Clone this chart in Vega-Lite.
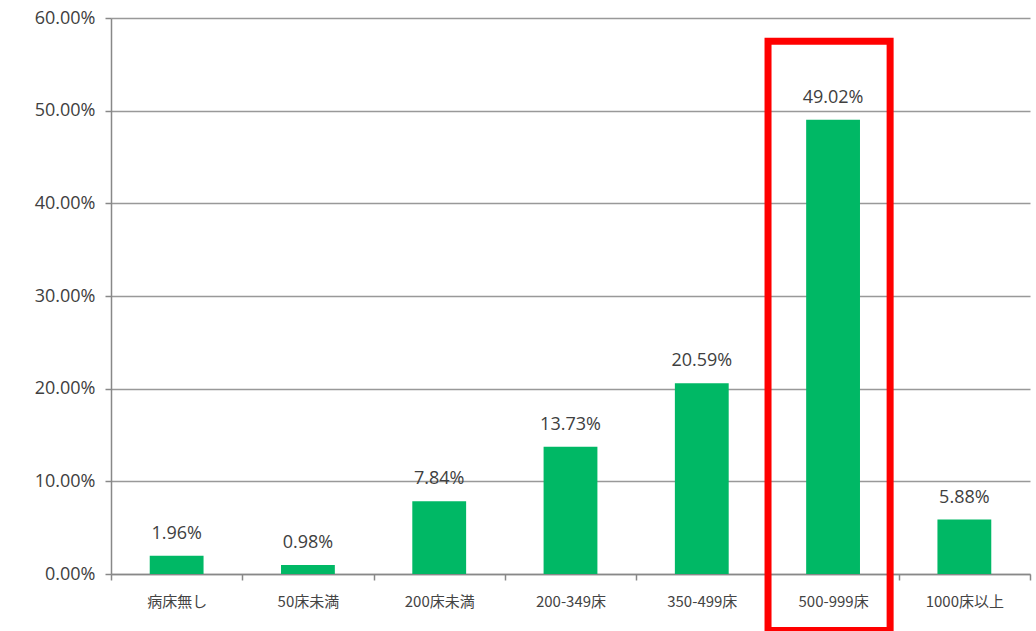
{
  "$schema": "https://vega.github.io/schema/vega-lite/v6.json",
  "width": 919,
  "height": 556,
  "autosize": "none",
  "padding": {"left": 111, "top": 18, "right": 6, "bottom": 57},
  "background": "white",
  "config": {"view": {"stroke": null}, "font": "Noto Sans CJK JP"},
  "datasets": {
    "bars": [
      {"category": "病床無し", "share": 0.0196},
      {"category": "50床未満", "share": 0.0098},
      {"category": "200床未満", "share": 0.0784},
      {"category": "200-349床", "share": 0.1373},
      {"category": "350-499床", "share": 0.2059},
      {"category": "500-999床", "share": 0.4902},
      {"category": "1000床以上", "share": 0.0588}
    ],
    "highlight": [
      {"category": "500-999床", "top": 0.575, "bottom": -0.061}
    ]
  },
  "layer": [
    {
      "data": {"name": "bars"},
      "mark": {"type": "bar", "color": "#00B865", "width": {"band": 0.41}},
      "encoding": {
        "x": {
          "field": "category", "type": "nominal", "sort": null,
          "scale": {"paddingInner": 0, "paddingOuter": 0},
          "axis": {
            "title": null, "labelAngle": 0, "labelFontSize": 15, "labelColor": "#444444",
            "labelFont": "Noto Sans CJK JP", "labelPadding": 14,
            "domainColor": "#888888", "domainWidth": 1.5,
            "tickColor": "#888888", "tickWidth": 1.5, "tickSize": 6, "tickBand": "extent",
            "grid": false
          }
        },
        "y": {
          "field": "share", "type": "quantitative",
          "scale": {"domain": [0, 0.6], "nice": false},
          "axis": {
            "title": null, "format": ".2%", "values": [0, 0.1, 0.2, 0.3, 0.4, 0.5, 0.6], "labelOverlap": false,
            "labelFontSize": 18, "labelColor": "#404040", "labelFont": "Open Sans", "labelPadding": 10,
            "domainColor": "#888888", "domainWidth": 1.5,
            "tickColor": "#888888", "tickWidth": 1.5, "tickSize": 6,
            "grid": true, "gridColor": "#999999", "gridWidth": 1.5
          }
        }
      }
    },
    {
      "data": {"name": "bars"},
      "mark": {"type": "text", "baseline": "bottom", "dy": -13, "fontSize": 18, "color": "#404040", "font": "Open Sans"},
      "encoding": {
        "x": {"field": "category", "type": "nominal", "sort": null},
        "y": {"field": "share", "type": "quantitative"},
        "text": {"field": "share", "type": "quantitative", "format": ".2%"}
      }
    },
    {
      "data": {"name": "highlight"},
      "mark": {"type": "rect", "fill": null, "fillOpacity": 0, "stroke": "#FF0000", "strokeWidth": 7, "width": {"band": 0.93}, "xOffset": -4},
      "encoding": {
        "x": {"field": "category", "type": "nominal", "sort": null},
        "y": {"field": "top", "type": "quantitative"},
        "y2": {"field": "bottom"}
      }
    }
  ]
}
